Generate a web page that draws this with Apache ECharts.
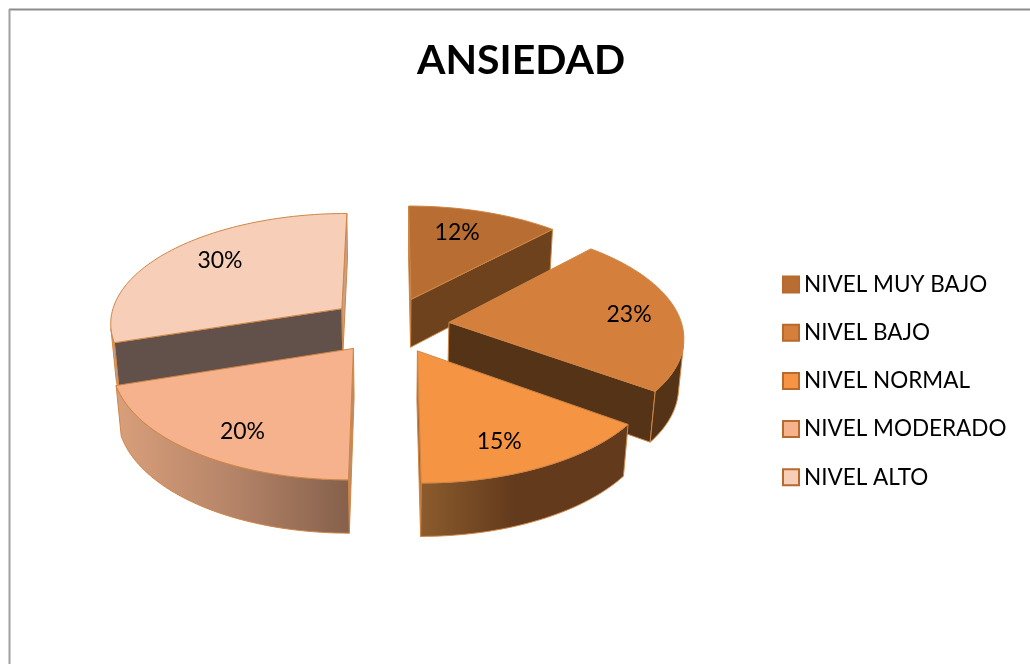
<!DOCTYPE html>
<html>
<head>
<meta charset="utf-8">
<title>ANSIEDAD</title>
<script src="https://cdn.jsdelivr.net/npm/echarts@6/dist/echarts.min.js"></script>
<style>
  html, body { margin: 0; padding: 0; background: #fff; overflow: hidden; }
  #chart { width: 1030px; height: 664px; }
</style>
</head>
<body>
<div id="chart"></div>
<script>
  var categories = ['NIVEL MUY BAJO', 'NIVEL BAJO', 'NIVEL NORMAL', 'NIVEL MODERADO', 'NIVEL ALTO'];
  var values = [12, 23, 15, 20, 30];

  // estilo de cada porcion
  var topColors = ['#B86E32', '#D57F3C', '#F59543', '#F5B28C', '#F7CEB8'];
  var startCutColors = ['#8A5A2C', '#553316', '#5E3819', '#C08A62', '#62514A'];
  var endCutColors = ['#6E421D', '#553316', '#A8652C', '#62514A', '#C9A189'];
  var wallStops = [
    [[0, '#6E421D'], [1, '#6E421D']],
    [[0, '#553316'], [1, '#553316']],
    [[0, '#8C5C2D'], [0.45, '#633A1C'], [1, '#633A1C']],
    [[0, '#D99F7B'], [0.5, '#B58468'], [1, '#85604B']],
    [[0, '#C9A189'], [1, '#C9A189']]
  ];
  var labelRadius = [0.55, 0.77, 0.77, 0.83, 0.66];
  // ajuste fino de las etiquetas en pantalla
  var labelNudge = [[4, -17], [4, 0], [-12, 4], [19, -1], [-7, -9]];
  // se pinta de atras hacia delante
  var drawOrder = [0, 4, 1, 3, 2];

  // proyeccion en perspectiva del pastel
  var view = { cx: 389.5, cy: 325, rx: 233, ry: 110, height: 49.5, persp: 0.1175, sink: 0.018, explode: 0.257 };

  function project(x, y, z) {
    var s = 1 / (1 + view.persp * y + view.sink * z);
    return [view.cx + view.rx * x * s, view.cy - view.ry * y * s + view.height * z * s];
  }

  function sliceAngles(index) {
    var total = values.reduce(function (a, b) { return a + b; }, 0);
    var before = values.slice(0, index).reduce(function (a, b) { return a + b; }, 0);
    return [before / total * 2 * Math.PI, (before + values[index]) / total * 2 * Math.PI];
  }

  function area(pts) {
    var sum = 0;
    for (var i = 0; i < pts.length; i++) {
      var p = pts[i], q = pts[(i + 1) % pts.length];
      sum += p[0] * q[1] - q[0] * p[1];
    }
    return sum / 2;
  }

  function renderSlice(index) {
    return function (params, api) {
      var value = api.value(0);
      var ang = sliceAngles(index);
      var mid = (ang[0] + ang[1]) / 2;
      var ox = view.explode * Math.sin(mid), oy = view.explode * Math.cos(mid);
      var edge = '#CF8646';

      function pt(a, r, z) {
        return project(ox + r * Math.sin(a), oy + r * Math.cos(a), z);
      }

      var children = [];
      function face(points, fill) {
        children.push({
          type: 'polygon',
          shape: { points: points },
          style: { fill: fill, stroke: edge, lineWidth: 1, lineJoin: 'round' }
        });
      }

      // caras de corte
      var startCut = [pt(0, 0, 0), pt(ang[0], 1, 0), pt(ang[0], 1, 1), pt(0, 0, 1)];
      var endCut = [pt(ang[1], 1, 0), pt(0, 0, 0), pt(0, 0, 1), pt(ang[1], 1, 1)];
      if (area(startCut) < 0) face(startCut, startCutColors[index]);
      if (area(endCut) < 0) face(endCut, endCutColors[index]);

      // pared exterior, solo la parte visible
      var steps = Math.ceil((ang[1] - ang[0]) / (Math.PI / 120));
      var upper = [], lower = [];
      for (var i = 0; i < steps; i++) {
        var a1 = ang[0] + (ang[1] - ang[0]) * i / steps;
        var a2 = ang[0] + (ang[1] - ang[0]) * (i + 1) / steps;
        var q = [pt(a1, 1, 0), pt(a2, 1, 0), pt(a2, 1, 1), pt(a1, 1, 1)];
        if (area(q) < 0) {
          if (!upper.length) { upper.push(q[0]); lower.push(q[3]); }
          upper.push(q[1]);
          lower.push(q[2]);
        }
      }
      if (upper.length) {
        var wall = upper.concat(lower.slice().reverse());
        face(wall, new echarts.graphic.LinearGradient(0, 0, 1, 0, wallStops[index].map(function (s) {
          return { offset: s[0], color: s[1] };
        })));
      }

      // cara superior
      var topPts = [pt(0, 0, 0)];
      for (var j = 0; j <= steps; j++) {
        topPts.push(pt(ang[0] + (ang[1] - ang[0]) * j / steps, 1, 0));
      }
      face(topPts, topColors[index]);

      var lp = pt(mid, labelRadius[index], 0);
      children.push({
        type: 'text',
        x: lp[0] + labelNudge[index][0],
        y: lp[1] + labelNudge[index][1],
        style: {
          text: value + '%',
          font: '23px Lato',
          fill: '#000',
          align: 'center',
          verticalAlign: 'middle'
        }
      });
      return { type: 'group', children: children };
    };
  }

  var chart = echarts.init(document.getElementById('chart'), null, { renderer: 'canvas' });
  chart.setOption({
    animation: false,
    backgroundColor: '#fff',
    title: {
      text: 'ANSIEDAD',
      left: 417,
      top: 40,
      padding: 0,
      textStyle: { fontFamily: 'Lato', fontWeight: 'bold', fontSize: 41, color: '#000' }
    },
    legend: {
      orient: 'vertical',
      left: 782,
      top: 273,
      padding: 0,
      itemWidth: 16,
      itemHeight: 16,
      itemGap: 25.2,
      icon: 'rect',
      data: categories,
      textStyle: { fontFamily: 'Lato', fontSize: 22.5, color: '#000', lineHeight: 16 }
    },
    graphic: [
      { type: 'line', shape: { x1: 9, y1: 9.5, x2: 1030, y2: 9.5 }, style: { stroke: '#8C8C8C', lineWidth: 2 } },
      { type: 'line', shape: { x1: 9.5, y1: 9, x2: 9.5, y2: 664 }, style: { stroke: '#A0A0A0', lineWidth: 2 } }
    ],
    series: drawOrder.map(function (index) {
      return {
        type: 'custom',
        name: categories[index],
        coordinateSystem: 'none',
        silent: true,
        itemStyle: { color: topColors[index], borderColor: '#B86A2C', borderWidth: 2 },
        renderItem: renderSlice(index),
        data: [[values[index]]]
      };
    })
  });
</script>
</body>
</html>
